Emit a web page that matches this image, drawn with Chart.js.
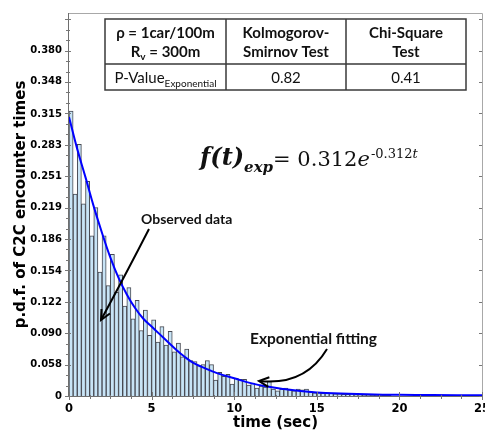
<!DOCTYPE html>
<html><head><meta charset="utf-8">
<script src="https://cdn.jsdelivr.net/npm/chart.js@4.4.1/dist/chart.umd.min.js"></script>
<style>html,body{margin:0;padding:0;background:#fff}#wrap{width:485px;height:436px;position:relative}</style>
</head><body><div id="wrap"><canvas id="c" width="485" height="436"></canvas></div>
<script>
// ---- data ----
const binWidth = 0.25; // seconds per histogram bin, first bin starts at 0
const pdfObserved = [0.318, 0.233, 0.284, 0.223, 0.246, 0.190, 0.219, 0.153, 0.190, 0.139,
  0.171, 0.132, 0.150, 0.118, 0.137, 0.105, 0.124, 0.093, 0.114, 0.088,
  0.104, 0.081, 0.097, 0.078, 0.092, 0.071, 0.080, 0.066, 0.074, 0.062,
  0.061, 0.057, 0.058, 0.062, 0.058, 0.042, 0.050, 0.046, 0.048, 0.038,
  0.044, 0.043, 0.043, 0.037, 0.039, 0.034, 0.036, 0.035, 0.041, 0.033,
  0.031, 0.033, 0.034, 0.032, 0.031, 0.033, 0.032, 0.033, 0.030, 0.029,
  0.029, 0.0285, 0.029, 0.0285, 0.028, 0.028, 0.0275, 0.0275, 0.028, 0.0272,
  0.0272, 0.027, 0.027, 0.0268, 0.0268, 0.0268, 0.0266, 0.0265];
const fitTimes  = [0, 0.5, 1, 1.5, 2, 2.5, 3, 3.5, 4, 4.5, 5, 5.5, 6, 6.5, 7, 7.5, 8, 9, 10, 11, 12, 13, 14, 15, 16, 18, 20, 22, 25];
const fitValues = [0.312, 0.279, 0.250, 0.220, 0.193, 0.168, 0.147, 0.130, 0.116, 0.105, 0.097, 0.089, 0.081, 0.073, 0.066, 0.060, 0.056, 0.049, 0.044, 0.039, 0.0355, 0.033, 0.031, 0.0295, 0.0285, 0.0275, 0.027, 0.0267, 0.0265];
const xTickValues = [0, 5, 10, 15, 20, 25];
const yTickValues = [0.0258, 0.058, 0.090, 0.122, 0.154, 0.186, 0.219, 0.251, 0.283, 0.315, 0.348, 0.380];
const yTickLabels = ['0', '0.058', '0.090', '0.122', '0.154', '0.186', '0.219', '0.251', '0.283', '0.315', '0.348', '0.380'];
const tableHeader = [['ρ = 1car/100m', 'R|v| = 300m'], ['Kolmogorov-', 'Smirnov Test'], ['Chi-Square', 'Test']];
const pValues = ['0.82', '0.41'];

const yMin = 0.0258, yMax = 0.4186;

const decor = {
  id: 'decor',
  afterDraw(chart) {
    const ctx = chart.ctx, a = chart.chartArea;
    const xs = chart.scales.x, ys = chart.scales.y;
    ctx.save();
    // frame
    ctx.strokeStyle = '#a8a8a8'; ctx.lineWidth = 1;
    ctx.beginPath();
    ctx.moveTo(a.left, a.top + 0.5); ctx.lineTo(a.right + 0.5, a.top + 0.5); ctx.lineTo(a.right + 0.5, a.bottom);
    ctx.stroke();
    ctx.strokeStyle = '#6e6e6e';
    ctx.beginPath();
    ctx.moveTo(a.left - 0.5, a.top); ctx.lineTo(a.left - 0.5, a.bottom + 0.5); ctx.lineTo(a.right + 0.5, a.bottom + 0.5);
    ctx.stroke();
    // y ticks
    ctx.strokeStyle = '#777';
    const ystep = (yTickValues[yTickValues.length - 1] - yTickValues[1]) / (yTickValues.length - 2);
    for (let v = yMin; v <= yMax; v += ystep / 3) {
      const p = Math.round(ys.getPixelForValue(v)) + 0.5;
      const major = Math.abs(((v - yMin) / ystep) - Math.round((v - yMin) / ystep)) < 0.01;
      ctx.beginPath();
      ctx.moveTo(a.left - (major ? 4 : 3), p); ctx.lineTo(a.left + (major ? 2 : 1), p);
      ctx.stroke();
      if (major) { ctx.beginPath(); ctx.moveTo(a.right - 3, p); ctx.lineTo(a.right, p); ctx.stroke(); }
    }
    // x ticks
    for (let v = 0; v <= 25.001; v += 1.25) {
      const p = Math.round(xs.getPixelForValue(v)) + 0.5;
      const major = Math.abs(v / 5 - Math.round(v / 5)) < 0.001;
      ctx.beginPath();
      ctx.moveTo(p, a.bottom - (major ? 4 : 1)); ctx.lineTo(p, a.bottom + (major ? 4 : 3));
      ctx.stroke();
    }
    // table
    const T = {l: 105, r: 466, t: 19, m: 64, b: 90, c1: 226, c2: 346};
    ctx.fillStyle = '#fff';
    ctx.fillRect(T.l, T.t, T.r - T.l, T.b - T.t);
    ctx.strokeStyle = '#3a3a3a'; ctx.lineWidth = 1.5;
    ctx.strokeRect(T.l, T.t, T.r - T.l, T.b - T.t);
    ctx.beginPath();
    ctx.moveTo(T.l, T.m); ctx.lineTo(T.r, T.m);
    ctx.moveTo(T.c1, T.t); ctx.lineTo(T.c1, T.b);
    ctx.moveTo(T.c2, T.t); ctx.lineTo(T.c2, T.b);
    ctx.stroke();
    ctx.fillStyle = '#111';
    ctx.textBaseline = 'alphabetic';
    const cols = [[T.l, T.c1], [T.c1, T.c2], [T.c2, T.r]];
    const bold = 'bold 15px Lato, "Open Sans", sans-serif';
    const subBold = 'bold 10px Lato, "Open Sans", sans-serif';
    function drawSub(text, cx, y, f, fs, dy) {
      const parts = text.split('|');
      let w = 0;
      parts.forEach((s, i) => { ctx.font = i % 2 ? fs : f; w += ctx.measureText(s).width; });
      let x = cx - w / 2;
      ctx.textAlign = 'left';
      parts.forEach((s, i) => { ctx.font = i % 2 ? fs : f; ctx.fillText(s, x, y + (i % 2 ? dy : 0)); x += ctx.measureText(s).width; });
    }
    tableHeader.forEach((lines, i) => {
      const cx = (cols[i][0] + cols[i][1]) / 2;
      drawSub(lines[0], cx, 38, bold, subBold, 3);
      drawSub(lines[1], cx, 57, bold, subBold, 3);
    });
    drawSub('P-Value|Exponential|', (T.l + T.c1) / 2, 83, '15px Lato, "Open Sans", sans-serif', '10px Lato, "Open Sans", sans-serif', 4);
    ctx.font = '15px Lato, "Open Sans", sans-serif'; ctx.textAlign = 'center';
    ctx.fillText(pValues[0], (T.c1 + T.c2) / 2, 83);
    ctx.fillText(pValues[1], (T.c2 + T.r) / 2, 83);
    // formula
    ctx.textAlign = 'left';
    let x = 200;
    ctx.font = 'italic bold 24px "DejaVu Serif", serif'; ctx.fillText('f(t)', x, 165); x += ctx.measureText('f(t)').width;
    ctx.font = 'italic bold 15px "DejaVu Serif", serif'; ctx.fillText('exp', x, 172); x += ctx.measureText('exp').width;
    ctx.font = '21px "DejaVu Serif", serif'; ctx.fillText('= 0.312', x, 166); x += ctx.measureText('= 0.312').width;
    ctx.font = 'italic 21px "DejaVu Serif", serif'; ctx.fillText('e', x, 166); x += ctx.measureText('e').width + 1;
    ctx.font = '13px "DejaVu Serif", serif'; ctx.fillText('-0.312', x, 158); x += ctx.measureText('-0.312').width;
    ctx.font = 'italic 13px "DejaVu Serif", serif'; ctx.fillText('t', x, 158);
    // annotations
    ctx.font = 'bold 14px Lato, "Open Sans", sans-serif';
    ctx.fillText('Observed data', 141, 224);
    ctx.font = 'bold 15.5px Lato, "Open Sans", sans-serif';
    ctx.fillText('Exponential fitting', 250, 344);
    function arrow(sx, sy, cx, cy, ex, ey) {
      ctx.strokeStyle = '#000'; ctx.lineWidth = 2;
      ctx.beginPath(); ctx.moveTo(sx, sy); ctx.quadraticCurveTo(cx, cy, ex, ey); ctx.stroke();
      const ang = Math.atan2(ey - cy, ex - cx);
      ctx.beginPath();
      ctx.moveTo(ex - 11 * Math.cos(ang - 0.45), ey - 11 * Math.sin(ang - 0.45));
      ctx.lineTo(ex, ey);
      ctx.lineTo(ex - 11 * Math.cos(ang + 0.45), ey - 11 * Math.sin(ang + 0.45));
      ctx.stroke();
    }
    arrow(149, 229, 128, 270, 101, 320);
    arrow(327, 349, 305, 386, 259, 381);
    ctx.restore();
  }
};

new Chart(document.getElementById('c'), {
  type: 'bar',
  data: {
    datasets: [
      {
        type: 'line', label: 'Exponential fitting', order: 0,
        data: fitTimes.map((t, i) => ({x: t, y: fitValues[i]})),
        borderColor: '#0000ff', borderWidth: 2, pointRadius: 0, tension: 0.4, fill: false
      },
      {
        type: 'bar', label: 'Observed data', order: 1,
        data: pdfObserved.map((v, i) => ({x: binWidth * (i + 0.5), y: v})),
        backgroundColor: 'rgb(200,228,246)', borderColor: 'rgb(70,72,80)', borderWidth: 1,
        barPercentage: 1, categoryPercentage: 1
      }
    ]
  },
  options: {
    responsive: false, animation: false, devicePixelRatio: 1,
    layout: {padding: {top: 4, right: 3, left: 0, bottom: 0}},
    plugins: {legend: {display: false}, tooltip: {enabled: false}},
    scales: {
      x: {
        type: 'linear', min: 0, max: 25, offset: false,
        grid: {display: false, drawTicks: false, offset: false}, border: {display: false},
        afterBuildTicks: s => { s.ticks = xTickValues.map(v => ({value: v})); },
        ticks: {font: {family: 'DejaVu Sans', weight: 'bold', size: 11.5}, color: '#000', padding: 6, maxRotation: 0, autoSkip: false},
        title: {display: true, text: 'time (sec)', color: '#000', font: {family: 'DejaVu Sans', weight: 'bold', size: 15}, padding: {top: 0, bottom: 4}},
        afterFit: s => { s.height = 40; s.paddingLeft = 0; s.paddingRight = 0; }
      },
      y: {
        type: 'linear', min: yMin, max: yMax,
        grid: {display: false, drawTicks: false}, border: {display: false},
        afterBuildTicks: s => { s.ticks = yTickValues.map(v => ({value: v})); },
        ticks: {font: {family: 'DejaVu Sans', weight: 'bold', size: 10}, color: '#000', padding: 7, autoSkip: false,
          callback: (v, i) => yTickLabels[i]},
        title: {display: true, text: 'p.d.f. of C2C encounter times', color: '#000', font: {family: 'DejaVu Sans', weight: 'bold', size: 15}, padding: {top: 12, bottom: 0}},
        afterFit: s => { s.width = 69; }
      }
    }
  },
  plugins: [decor]
});
</script></body></html>
